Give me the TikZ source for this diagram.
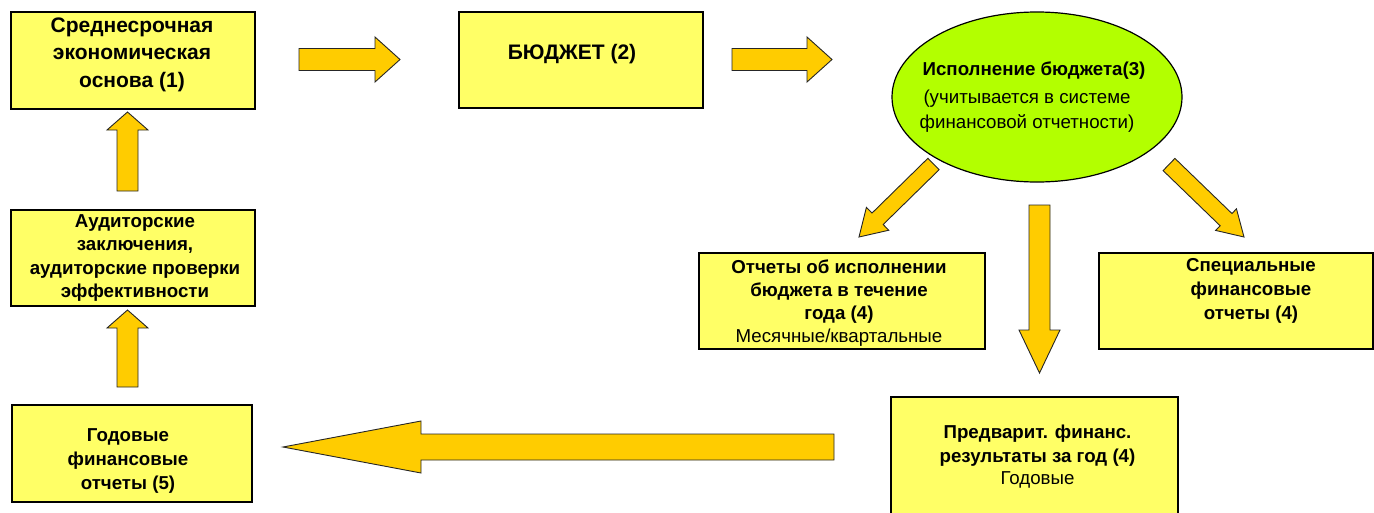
\documentclass[tikz,border=0pt]{standalone}
\usepackage{fontspec}
\setmainfont{Liberation Sans}
\usetikzlibrary{calc,shapes.geometric}
\definecolor{boxfill}{HTML}{FFFF66}
\definecolor{arrfill}{HTML}{FFCC00}
\definecolor{ellfill}{HTML}{B3FF00}
\tikzset{
  ybox/.style={draw=black, line width=1.2pt, fill=boxfill, inner sep=0pt},
  barrow/.style={draw=black!85, line width=0.9pt, fill=arrfill, line join=miter},
  btxt/.style={font=\bfseries\fontsize{18.7}{#1}\selectfont, align=center, inner sep=0pt},
  rtxt/.style={font=\fontsize{18.7}{#1}\selectfont, align=center, inner sep=0pt},
  bbig/.style={font=\bfseries\fontsize{21}{#1}\selectfont, align=center, inner sep=0pt}
}
\newcommand{\blockarr}[5]{%
  \path ($(#2)!#5!(#1)$) coordinate (hb);
  \draw[barrow] ($(#1)!#3!90:(#2)$) -- ($(hb)!#3!90:(#2)$) -- ($(hb)!#4!90:(#2)$) -- (#2)
    -- ($(hb)!#4!-90:(#2)$) -- ($(hb)!#3!-90:(#2)$) -- ($(#1)!#3!-90:(#2)$) -- cycle;}
\begin{document}
\begin{tikzpicture}[x=1pt,y=-1pt]
\useasboundingbox (0,0) rectangle (1374,512);
% boxes
\node[ybox, minimum width=244pt, minimum height=97pt] (b1) at (133,60.5) {};
\node[ybox, minimum width=244pt, minimum height=96pt] (b2) at (581,60) {};
\node[ellipse, draw=black, line width=1.2pt, fill=ellfill, minimum width=290pt, minimum height=170pt, inner sep=0pt] (ell) at (1037,97) {};
\node[ybox, minimum width=286pt, minimum height=96pt] (b4) at (842,301) {};
\node[ybox, minimum width=274pt, minimum height=96pt] (b5) at (1236,301) {};
\node[ybox, minimum width=287pt, minimum height=120pt] (b6) at (1034.5,457) {};
\node[ybox, minimum width=244pt, minimum height=96pt] (b7) at (133,258) {};
\node[ybox, minimum width=240pt, minimum height=97pt] (b8) at (132,453.5) {};
% texts
\node[bbig=27.5] (t1) at (132,54.5) {Среднесрочная\\экономическая\\основа (1)};
\node[bbig=20] (t2) at (572,54) {БЮДЖЕТ (2)};
\node[btxt=20] (t3a) at (1034,71) {Исполнение бюджета(3)};
\node[rtxt=25] (t3b) at (1027,111) {(учитывается в системе\\финансовой отчетности)};
\node[btxt=23.3] (t4) at (839,291.5) {Отчеты об исполнении\\бюджета в течение\\года (4)};
\node[rtxt=20] (t4b) at (839,338) {Месячные/квартальные};
\node[btxt=24] (t5) at (1251,290.5) {Специальные\\финансовые\\отчеты (4)};
\node[btxt=23.5] (t6) at (1037.5,445.5) {Предварит. финанс.\\результаты за год (4)};
\node[rtxt=20] (t6b) at (1037.5,480) {Годовые};
\node[btxt=23.3] (t7) at (135,258) {Аудиторские\\заключения,\\аудиторские проверки\\эффективности};
\node[btxt=24] (t8) at (128,461) {Годовые\\финансовые\\отчеты (5)};
% arrow end points
\coordinate (a1s) at (299,59.5);  \coordinate (a1t) at (400,59.5);
\coordinate (a2s) at (732,59.5);  \coordinate (a2t) at (832,59.5);
\coordinate (a3s) at (933.5,164); \coordinate (a3t) at (859,237);
\coordinate (a4s) at (1039.5,205); \coordinate (a4t) at (1039.5,373);
\coordinate (a5s) at (1169,164.5); \coordinate (a5t) at (1244,237);
\coordinate (a6s) at (834,447);   \coordinate (a6t) at (283,447);
\coordinate (a7s) at (127.5,387); \coordinate (a7t) at (127.5,310);
\coordinate (a8s) at (127.5,191); \coordinate (a8t) at (127.5,112);
\blockarr{a1s}{a1t}{11pt}{22.5pt}{25pt}
\blockarr{a2s}{a2t}{11pt}{22.5pt}{25pt}
\blockarr{a3s}{a3t}{8pt}{16pt}{26pt}
\blockarr{a4s}{a4t}{10.5pt}{20.5pt}{43pt}
\blockarr{a5s}{a5t}{8.5pt}{15pt}{25pt}
\blockarr{a6s}{a6t}{13pt}{26pt}{138pt}
\blockarr{a7s}{a7t}{10.5pt}{20.5pt}{18pt}
\blockarr{a8s}{a8t}{10.5pt}{20.5pt}{18pt}
\end{tikzpicture}
\end{document}
